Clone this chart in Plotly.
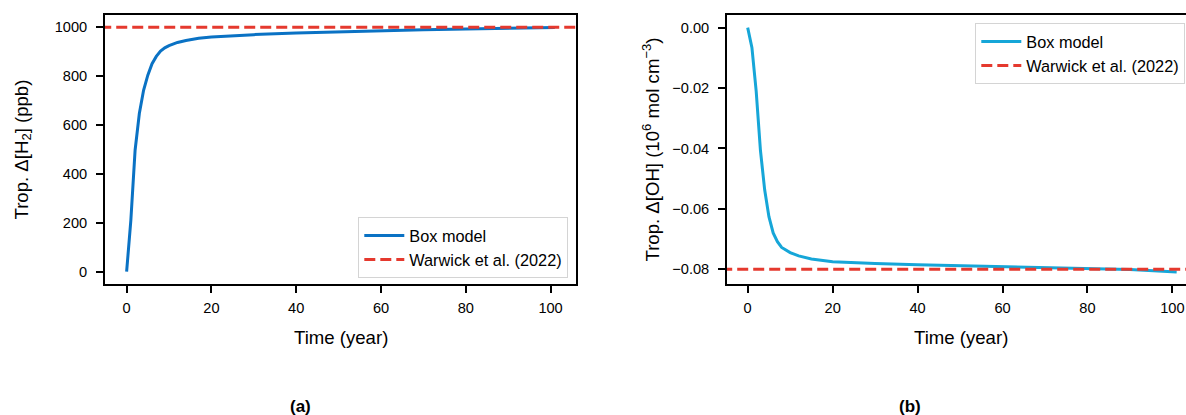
import plotly.graph_objects as go

# ---------------- data ----------------
years_h2 = [0, 1, 2, 3, 4, 5, 6, 7, 8, 9, 10, 12, 14, 17, 20, 25, 30, 40, 50, 60, 70, 80, 90, 101]
dh2_box = [0, 211, 497, 647, 742, 804, 851, 881, 903, 916, 925, 938, 946, 955, 960, 966, 970, 977, 982, 986, 990, 993, 996, 999]
dh2_warwick = 1000

years_oh = [0, 1, 2, 3, 4, 5, 6, 7, 8, 10, 12, 15, 20, 25, 30, 40, 50, 60, 70, 80, 90, 101]
doh_box = [0.0, -0.0066, -0.021, -0.0406, -0.0537, -0.0626, -0.068, -0.0709, -0.0728, -0.0745,
           -0.0756, -0.0766, -0.0775, -0.0779, -0.0781, -0.0785, -0.0788, -0.0791, -0.0794,
           -0.0797, -0.0801, -0.0809]
doh_warwick = -0.08

x_ticks = [0, 20, 40, 60, 80, 100]
h2_ticks = [0, 200, 400, 600, 800, 1000]
oh_ticks = [0.0, -0.02, -0.04, -0.06, -0.08]
oh_ticktext = ["0.00", "\u22120.02", "\u22120.04", "\u22120.06", "\u22120.08"]

# ---------------- styles ----------------
W, H = 1186, 415
FONT = "Liberation Sans, Arial, sans-serif"
BLUE_A = "#0a72c4"
BLUE_B = "#16a6d8"
RED = "#e5392e"
LW = 3.0
DASH = "11px,5px"

def px_x(p):
    return p / W

def px_y(p):
    return (H - p) / H

fig = go.Figure()

fig.add_trace(go.Scatter(x=years_h2, y=dh2_box, mode="lines", name="Box model",
                         line=dict(color=BLUE_A, width=LW), xaxis="x", yaxis="y", legend="legend"))
fig.add_trace(go.Scatter(x=[-10, 120], y=[dh2_warwick, dh2_warwick], mode="lines",
                         name="Warwick et al. (2022)",
                         line=dict(color=RED, width=LW, dash=DASH), xaxis="x", yaxis="y", legend="legend"))
fig.add_trace(go.Scatter(x=years_oh, y=doh_box, mode="lines", name="Box model",
                         line=dict(color=BLUE_B, width=LW), xaxis="x2", yaxis="y2", legend="legend2"))
fig.add_trace(go.Scatter(x=[-10, 120], y=[doh_warwick, doh_warwick], mode="lines",
                         name="Warwick et al. (2022)",
                         line=dict(color=RED, width=LW, dash=DASH), xaxis="x2", yaxis="y2", legend="legend2"))

axis_common = dict(showgrid=False, zeroline=False, showline=True, linecolor="black", linewidth=1.7,
                   ticks="outside", ticklen=7, tickwidth=1.6, tickcolor="black",
                   tickfont=dict(family=FONT, size=14.6, color="black"))

ydom = [px_y(284), px_y(15)]

legend_common = dict(bgcolor="white", bordercolor="#d4d4d4", borderwidth=1.3, itemwidth=40,
                     font=dict(family=FONT, size=16.3, color="black"), tracegroupgap=0)

fig.update_layout(
    width=W, height=H,
    margin=dict(l=0, r=0, t=0, b=0),
    paper_bgcolor="white", plot_bgcolor="white",
    font=dict(family=FONT, color="black"),
    xaxis=dict(domain=[px_x(105), px_x(576)], range=[-5.1, 106.0], tickvals=x_ticks,
               anchor="y", mirror=True, ticklabelstandoff=3, **axis_common),
    yaxis=dict(domain=ydom, range=[-50.3, 1050.3], tickvals=h2_ticks,
               anchor="x", mirror=True, ticklabelstandoff=6, **axis_common),
    xaxis2=dict(domain=[px_x(727), 1.0], range=[-4.87, 103.2], tickvals=x_ticks,
                anchor="y2", mirror=True, ticklabelstandoff=3, **axis_common),
    yaxis2=dict(domain=ydom, range=[-0.0849, 0.0042], tickvals=oh_ticks, ticktext=oh_ticktext,
                anchor="x2", mirror=False, ticklabelstandoff=6, **axis_common),
    legend=dict(x=px_x(568), y=px_y(278), xanchor="right", yanchor="bottom", **legend_common),
    legend2=dict(x=px_x(1185), y=px_y(23), xanchor="right", yanchor="top", **legend_common),
    showlegend=True,
)

ann_font = dict(family=FONT, size=18.6, color="black")
annotations = [
    dict(text="Time (year)", x=px_x(340.5), y=px_y(337), xref="paper", yref="paper",
         showarrow=False, xanchor="center", yanchor="middle", font=ann_font),
    dict(text="Time (year)", x=px_x(961), y=px_y(337), xref="paper", yref="paper",
         showarrow=False, xanchor="center", yanchor="middle", font=ann_font),
    dict(text="Trop. \u0394[H<sub>2</sub>] (ppb)", x=px_x(22), y=px_y(149.5), xref="paper", yref="paper",
         showarrow=False, xanchor="center", yanchor="middle", textangle=-90, font=ann_font),
    dict(text="Trop. \u0394[OH] (10<sup>6</sup> mol cm<sup>\u22123</sup>)", x=px_x(651), y=px_y(149.5),
         xref="paper", yref="paper",
         showarrow=False, xanchor="center", yanchor="middle", textangle=-90, font=ann_font),
    dict(text="<b>(a)</b>", x=px_x(300), y=px_y(406), xref="paper", yref="paper",
         showarrow=False, xanchor="center", yanchor="middle", font=dict(family=FONT, size=17, color="black")),
    dict(text="<b>(b)</b>", x=px_x(910), y=px_y(406), xref="paper", yref="paper",
         showarrow=False, xanchor="center", yanchor="middle", font=dict(family=FONT, size=17, color="black")),
]
fig.update_layout(annotations=annotations)

fig.write_html("out.html")
